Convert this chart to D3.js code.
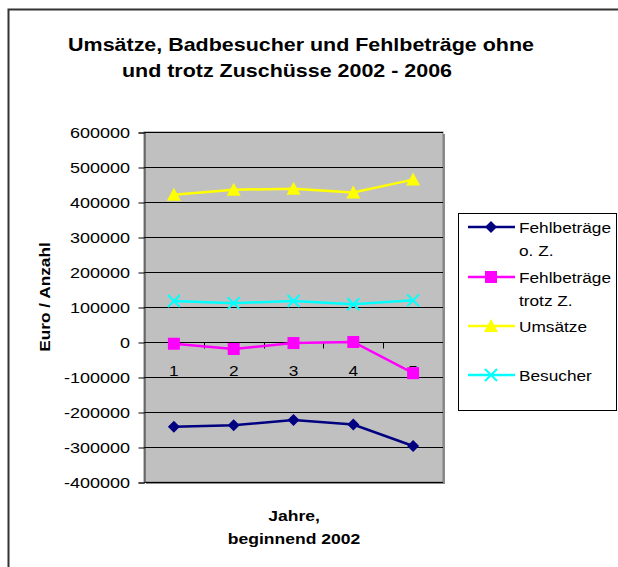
<!DOCTYPE html>
<html>
<head>
<meta charset="utf-8">
<script src="https://cdn.jsdelivr.net/npm/d3@7/dist/d3.min.js"></script>
<style>
  body { margin: 0; background: #fff; }
  text { font-family: "Liberation Sans", Arial, sans-serif; fill: #000; }
</style>
</head>
<body>
<script>
// data
var jahre = [1, 2, 3, 4, 5];
var fehlOhne = [-242000, -238000, -223000, -236000, -297000];
var fehlTrotz = [-5000, -20000, -3000, 0, -89000];
var umsaetze = [421000, 435000, 438000, 427000, 464000];
var besucher = [117000, 111000, 117000, 108000, 119000];
var yTicks = [600000, 500000, 400000, 300000, 200000, 100000, 0, -100000, -200000, -300000, -400000];

var series = [
    {name: ["Fehlbeträge", "o. Z."], values: fehlOhne, color: "#000080", marker: "diamond"},
    {name: ["Fehlbeträge", "trotz  Z."], values: fehlTrotz, color: "#ff00ff", marker: "square"},
    {name: ["Umsätze"], values: umsaetze, color: "#ffff00", marker: "triangle"},
    {name: ["Besucher"], values: besucher, color: "#00ffff", marker: "x"}
];

var W = 618, H = 567;
var plot = {left: 144, top: 132, right: 443, bottom: 482};

var svg = d3.select("body").append("svg")
    .attr("width", W)
    .attr("height", H);

//Helper: text a bit wider than the font gives, like the old chart
function stretchText(parent, x, y, str, size, anchor, bold, sx, rot) {
    var g = parent.append("g")
        .attr("transform", "translate(" + x + "," + y + ")" + (rot ? " rotate(" + rot + ")" : "") + " scale(" + sx + ",1)");
    return g.append("text")
        .attr("text-anchor", anchor)
        .style("font-size", size + "px")
        .style("font-weight", bold ? "bold" : "normal")
        .text(str);
}

// outer chart frame
svg.append("rect")
    .attr("x", 8.5).attr("y", 9.5)
    .attr("width", 640).attr("height", 600)
    .attr("fill", "none")
    .attr("stroke", "#333")
    .attr("stroke-width", 2);

// title
stretchText(svg, 301, 50.5, "Umsätze, Badbesucher und Fehlbeträge ohne", 18.5, "middle", true, 1.16);
stretchText(svg, 287, 76.5, "und trotz Zuschüsse 2002 - 2006", 18.5, "middle", true, 1.16);

var x = d3.scaleBand().domain(jahre).range([plot.left, plot.right]);
var y = d3.scaleLinear().domain([-400000, 600000]).range([plot.bottom, plot.top]);

// plot area with shadow
svg.append("rect")
    .attr("x", plot.left + 2).attr("y", plot.top + 2)
    .attr("width", plot.right - plot.left).attr("height", plot.bottom - plot.top)
    .attr("fill", "#8c8c8c");
svg.append("rect")
    .attr("x", plot.left).attr("y", plot.top)
    .attr("width", plot.right - plot.left).attr("height", plot.bottom - plot.top)
    .attr("fill", "#c0c0c0")
    .attr("stroke", "#808080");

// grid lines
svg.append("g").selectAll("line")
    .data(yTicks)
    .enter()
    .append("line")
    .attr("x1", plot.left).attr("x2", plot.right)
    .attr("y1", function(d){return Math.round(y(d)) + 0.5;})
    .attr("y2", function(d){return Math.round(y(d)) + 0.5;})
    .attr("stroke", "#000");

// y axis (ticks from d3, labels drawn stretched)
var yAxis = svg.append("g")
    .attr("transform", "translate(" + (plot.left + 0.5) + ",0.5)")
    .call(d3.axisLeft(y).tickValues(yTicks).tickSize(6).tickFormat(""));
yAxis.select(".domain").attr("stroke", "#333");
yTicks.forEach(function(t){
    stretchText(svg, plot.left - 14, y(t) + 5.5, d3.format("d")(t).replace("−", "-"), 15, "end", false, 1.2);
});

// x axis at zero line
var zeroY = Math.round(y(0)) + 0.5;
svg.append("line")
    .attr("x1", plot.left).attr("x2", plot.right)
    .attr("y1", zeroY).attr("y2", zeroY)
    .attr("stroke", "#000");
svg.selectAll(".xtick")
    .data(jahre.slice(1))
    .enter()
    .append("line")
    .attr("x1", function(d){return Math.round(x(d)) + 0.5;})
    .attr("x2", function(d){return Math.round(x(d)) + 0.5;})
    .attr("y1", zeroY).attr("y2", zeroY + 6)
    .attr("stroke", "#000");
jahre.forEach(function(d){
    stretchText(svg, x(d) + x.bandwidth() / 2, zeroY + 33, String(d), 15, "middle", false, 1.15);
});

// axis titles
stretchText(svg, 50, 297, "Euro / Anzahl", 15, "middle", true, 1.15, -90);
stretchText(svg, 294, 521, "Jahre,", 15, "middle", true, 1.17);
stretchText(svg, 294, 544, "beginnend 2002", 15, "middle", true, 1.17);

// marker shapes
function drawMarker(g, type, color) {
    if (type === "diamond") {
        g.append("path").attr("d", "M0,-6L6,0L0,6L-6,0Z").attr("fill", color);
    } else if (type === "square") {
        g.append("rect").attr("x", -6).attr("y", -6).attr("width", 12).attr("height", 12).attr("fill", color);
    } else if (type === "triangle") {
        g.append("path").attr("d", "M0,-7L7,6L-7,6Z").attr("fill", color);
    } else {
        g.append("path").attr("d", "M-6,-6L6,6M-6,6L6,-6").attr("stroke", color).attr("stroke-width", 2);
    }
}

var line = d3.line()
    .x(function(d, i){return x(jahre[i]) + x.bandwidth() / 2;})
    .y(function(d){return y(d);});

series.forEach(function(s){
    svg.append("path")
        .datum(s.values)
        .attr("d", line)
        .attr("fill", "none")
        .attr("stroke", s.color)
        .attr("stroke-width", 2.5);
    s.values.forEach(function(v, i){
        var g = svg.append("g")
            .attr("transform", "translate(" + (x(jahre[i]) + x.bandwidth() / 2) + "," + y(v) + ")");
        drawMarker(g, s.marker, s.color);
    });
});

// legend
svg.append("rect")
    .attr("x", 458.5).attr("y", 213.5)
    .attr("width", 158).attr("height", 197)
    .attr("fill", "#fff")
    .attr("stroke", "#000");
var legendY = [227, 277, 326, 375];
series.forEach(function(s, i){
    var ly = legendY[i];
    svg.append("line")
        .attr("x1", 468).attr("x2", 515)
        .attr("y1", ly).attr("y2", ly)
        .attr("stroke", s.color)
        .attr("stroke-width", 2.5);
    drawMarker(svg.append("g").attr("transform", "translate(491," + ly + ")"), s.marker, s.color);
    s.name.forEach(function(n, j){
        stretchText(svg, 519, ly + 6 + j * 23, n, 15, "start", false, 1.15);
    });
});
</script>
</body>
</html>
